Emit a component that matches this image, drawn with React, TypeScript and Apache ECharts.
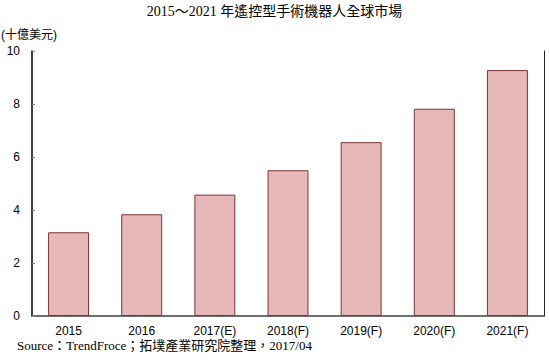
import React, { useEffect, useRef } from "react";
import * as echarts from "echarts";

const categories = ["2015", "2016", "2017(E)", "2018(F)", "2019(F)", "2020(F)", "2021(F)"];
const values = [3.16, 3.84, 4.58, 5.5, 6.56, 7.82, 9.28];
const yTicks = { min: 0, max: 10, interval: 2 };
const titleText = "2015～2021 年遙控型手術機器人全球市場";
const unitText = "(十億美元)";
const sourceText = "Source：TrendFroce；拓墣產業研究院整理，2017/04";

export default function App() {
  const ref = useRef<HTMLDivElement>(null);
  useEffect(() => {
    if (!ref.current) return;
    const chart = echarts.init(ref.current, null, { renderer: "svg" });
    const sans = "'Liberation Sans', Arial, 'Noto Sans CJK TC', sans-serif";
    const serif = "'Liberation Serif', 'Times New Roman', 'Noto Sans CJK TC', serif";
    chart.setOption({
      animation: false,
      backgroundColor: "#ffffff",
      title: [
        {
          text: titleText,
          left: "center",
          top: 4,
          padding: 0,
          textStyle: { fontFamily: serif, fontSize: 14, fontWeight: "normal", color: "#000" },
        },
        {
          text: unitText,
          left: 1,
          top: 29,
          padding: 0,
          textStyle: { fontFamily: sans, fontSize: 12, fontWeight: "normal", color: "#000" },
        },
        {
          text: sourceText,
          left: 17,
          top: 339,
          padding: 0,
          textStyle: { fontFamily: serif, fontSize: 13, fontWeight: "normal", color: "#000" },
        },
      ],
      grid: { left: 32, right: 5, top: 51, bottom: 47, containLabel: false },
      xAxis: [
        {
          type: "category",
          data: categories,
          axisLine: { lineStyle: { color: "#000", width: 1.5 } },
          axisTick: { show: false },
          axisLabel: { color: "#000", fontFamily: sans, fontSize: 12, margin: 9 },
        },
        {
          type: "category",
          position: "top",
          data: categories,
          axisLine: { lineStyle: { color: "#808080", width: 1.5 } },
          axisTick: { show: false },
          axisLabel: { show: false },
        },
      ],
      yAxis: [
        {
          type: "value",
          min: yTicks.min,
          max: yTicks.max,
          interval: yTicks.interval,
          axisLine: { show: true, lineStyle: { color: "#000", width: 1.5 } },
          axisTick: { show: true, inside: true, length: 3, lineStyle: { color: "#808080" } },
          axisLabel: { color: "#000", fontFamily: sans, fontSize: 12, margin: 12 },
          splitLine: { show: false },
        },
        {
          type: "value",
          position: "right",
          min: yTicks.min,
          max: yTicks.max,
          interval: yTicks.interval,
          axisLine: { show: true, lineStyle: { color: "#222", width: 1 } },
          axisTick: { show: false },
          axisLabel: { show: false },
          splitLine: { show: false },
        },
      ],
      series: [
        {
          type: "bar",
          data: values,
          barWidth: "56%",
          itemStyle: { color: "#e6b8b7", borderColor: "#7a3533", borderWidth: 1 },
        },
      ],
    });
    return () => chart.dispose();
  }, []);
  return <div ref={ref} style={{ position: "fixed", left: 0, top: 0, width: 549, height: 363 }} />;
}
